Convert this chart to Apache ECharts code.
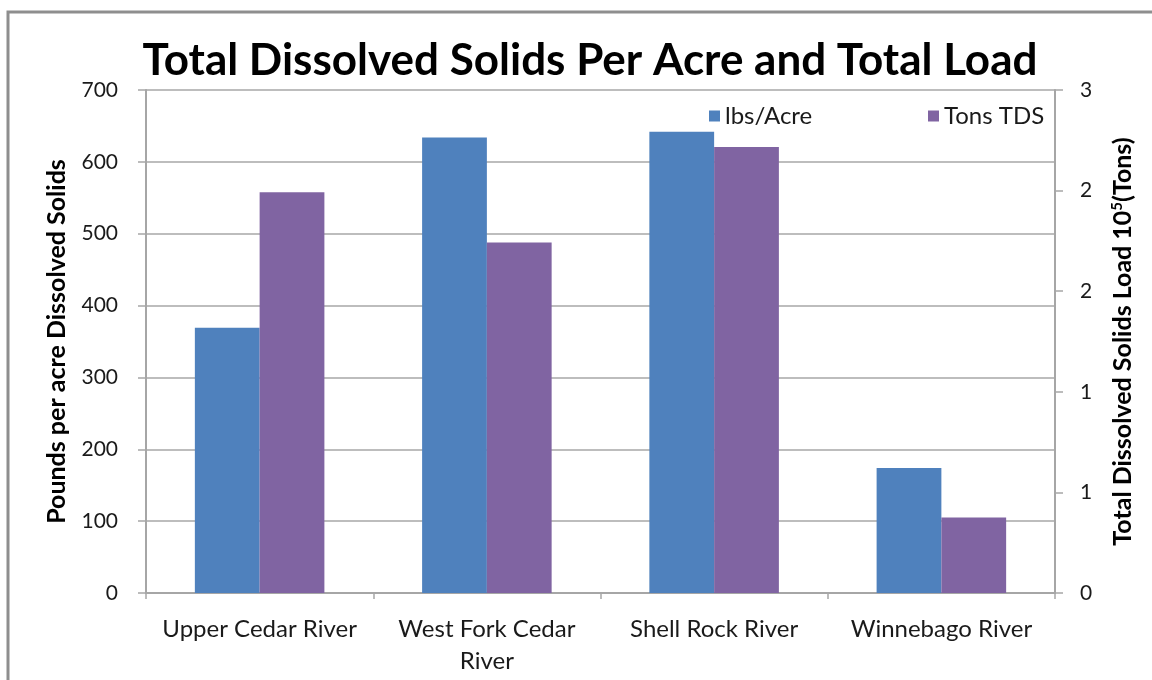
<!DOCTYPE html>
<html>
<head>
<meta charset="utf-8">
<title>Total Dissolved Solids Per Acre and Total Load</title>
<script src="https://cdn.jsdelivr.net/npm/echarts@6/dist/echarts.min.js"></script>
<style>
  html, body { margin: 0; padding: 0; background: #ffffff; }
  #chart { width: 1152px; height: 680px; }
</style>
</head>
<body>
<div id="chart"></div>
<script>
// Watersheds shown along the category axis
const rivers = ['Upper Cedar River', 'West Fork Cedar\nRiver', 'Shell Rock River', 'Winnebago River'];
// Dissolved solids yield, pounds per acre (left axis)
const lbsPerAcre = [369, 634, 642, 174];
// Total dissolved solids load, 10^5 tons (right axis)
const tonsTDS = [2.39, 2.09, 2.66, 0.45];
// Axis ranges
const leftTicks = { min: 0, max: 700, interval: 100 };
const rightTicks = { min: 0, max: 3, interval: 0.6 };

const FONT = 'Lato, "Open Sans", "Noto Sans", sans-serif';
const AXIS_GREY = '#a6a6a6';

const chart = echarts.init(document.getElementById('chart'), null, { renderer: 'canvas' });

chart.setOption({
  animation: false,
  backgroundColor: '#ffffff',
  textStyle: { fontFamily: FONT },
  graphic: [{
    type: 'rect',
    silent: true,
    shape: { x: 8, y: 12, width: 1170, height: 700 },
    style: { fill: 'none', stroke: '#8e8e8e', lineWidth: 3 }
  }],
  title: {
    text: 'Total Dissolved Solids Per Acre and Total Load',
    left: 585,
    textAlign: 'center',
    top: 34,
    textStyle: { fontFamily: FONT, fontSize: 44, fontWeight: 'bold', color: '#000000' }
  },
  legend: [{
    data: ['lbs/Acre'],
    left: 704,
    top: 99,
    itemWidth: 11,
    itemHeight: 11,
    icon: 'rect',
    textStyle: { fontFamily: FONT, fontSize: 24, color: '#1a1a1a' }
  }, {
    data: ['Tons TDS'],
    left: 923,
    top: 99,
    itemWidth: 11,
    itemHeight: 11,
    icon: 'rect',
    textStyle: { fontFamily: FONT, fontSize: 24, color: '#1a1a1a' }
  }],
  grid: { left: 146, right: 97, top: 90, bottom: 87, containLabel: false },
  xAxis: {
    type: 'category',
    data: rivers,
    axisLine: { lineStyle: { color: AXIS_GREY, width: 2 } },
    axisTick: { show: true, length: 6, lineStyle: { color: AXIS_GREY, width: 1.5 } },
    axisLabel: {
      margin: 20,
      fontFamily: FONT,
      fontSize: 24,
      lineHeight: 32,
      color: '#1a1a1a',
      interval: 0
    }
  },
  yAxis: [{
    type: 'value',
    position: 'left',
    min: leftTicks.min,
    max: leftTicks.max,
    interval: leftTicks.interval,
    name: 'Pounds per acre Dissolved Solids',
    nameLocation: 'middle',
    nameRotate: 90,
    nameGap: 77,
    nameTextStyle: { fontFamily: FONT, fontSize: 25, fontWeight: 'bold', color: '#000000' },
    axisLine: { show: true, lineStyle: { color: AXIS_GREY, width: 2 } },
    axisTick: { show: true, length: 8, lineStyle: { color: AXIS_GREY, width: 1.5 } },
    axisLabel: { margin: 28, fontFamily: FONT, fontSize: 21, color: '#1a1a1a' },
    splitLine: { show: true, lineStyle: { color: '#bdbdbd', width: 2 } }
  }, {
    type: 'value',
    position: 'right',
    min: rightTicks.min,
    max: rightTicks.max,
    interval: rightTicks.interval,
    name: 'Total Dissolved Solids Load 10{sup|5}(Tons)',
    nameLocation: 'middle',
    nameRotate: 90,
    nameGap: 55,
    nameTextStyle: {
      fontFamily: FONT, fontSize: 25, fontWeight: 'bold', color: '#000000',
      rich: {
        sup: { fontFamily: FONT, fontSize: 15, fontWeight: 'bold', color: '#000000', verticalAlign: 'top', padding: [0, 0, 10, 0] }
      }
    },
    axisLine: { show: true, lineStyle: { color: AXIS_GREY, width: 2 } },
    axisTick: { show: true, length: 8, lineStyle: { color: AXIS_GREY, width: 1.5 } },
    axisLabel: {
      margin: 25, fontFamily: FONT, fontSize: 21, color: '#1a1a1a',
      formatter: v => String(Math.round(v))
    },
    splitLine: { show: false }
  }],
  series: [{
    name: 'lbs/Acre',
    type: 'bar',
    yAxisIndex: 0,
    data: lbsPerAcre,
    barGap: '0%',
    barCategoryGap: '43%',
    itemStyle: { color: '#4f81bd' }
  }, {
    name: 'Tons TDS',
    type: 'bar',
    yAxisIndex: 1,
    data: tonsTDS,
    barGap: '0%',
    barCategoryGap: '43%',
    itemStyle: { color: '#8064a2' }
  }]
});
</script>
</body>
</html>
